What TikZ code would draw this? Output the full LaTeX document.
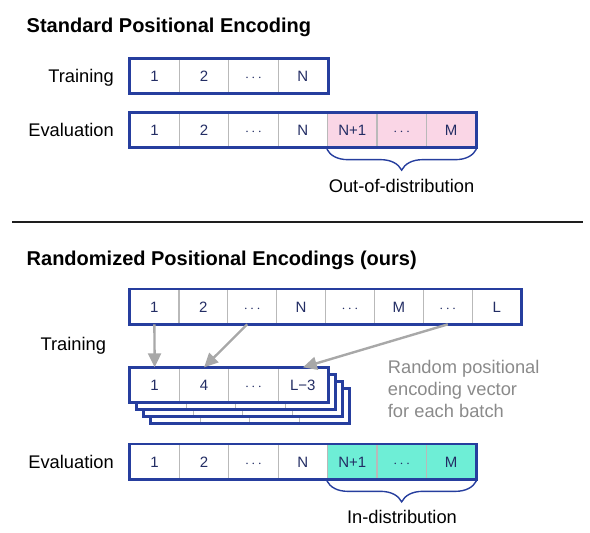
\documentclass[tikz,border=0pt]{standalone}
\usepackage{fontspec}
\setmainfont{Liberation Sans}
\usetikzlibrary{arrows.meta,decorations.pathreplacing}

\definecolor{framenavy}{RGB}{38,62,158}
\definecolor{cellnavy}{RGB}{35,45,100}
\definecolor{cellgray}{RGB}{185,185,185}
\definecolor{oodpink}{RGB}{250,214,230}
\definecolor{indteal}{RGB}{110,238,214}
\definecolor{arrowgray}{RGB}{168,168,168}
\definecolor{notegray}{RGB}{138,138,138}
\definecolor{rulegray}{RGB}{30,30,30}

\newcommand{\cellfont}{\fontsize{15}{18}\selectfont}
\newcommand{\labelfont}{\fontsize{18.3}{22}\selectfont}
\newcommand{\titlefont}{\bfseries\fontsize{20}{24}\selectfont}

\tikzset{
  cell/.style={draw=cellgray, line width=1.3pt, minimum height=34pt, inner sep=0pt,
    text height=10.7pt, text depth=0pt, text=cellnavy, font=\cellfont, anchor=west},
  frame/.style={draw=framenavy, line width=2.8pt},
  pick/.style={draw=arrowgray, line width=2.4pt, -{Triangle[length=14pt,width=13pt]}},
  span/.style={draw=framenavy, line width=1.4pt, decorate,
    decoration={brace, mirror, amplitude=21pt, raise=1.5pt}},
  rowlabel/.style={font=\labelfont, inner sep=0pt},
}

\begin{document}
\begin{tikzpicture}[x=1pt, y=-1pt]
  \useasboundingbox (0,0) rectangle (590,533);

  %%Standard
  \node[font=\titlefont, anchor=base west, inner sep=0pt] (stdtitle) at (26.5, 32) {Standard Positional Encoding};
  \node[rowlabel, anchor=base east] (stdtrain) at (114, 82.7) {Training};
  \node[rowlabel, anchor=base east] (stdeval) at (114, 136.8) {Evaluation};

    %%train row
    \foreach \t [count=\i] in {1,2,$\cdots$,N}
      \node[cell, minimum width=49.4pt] (st\i) at ({129.3+(\i-1)*49.4}, 76) {\t};
    \draw[frame] (st1.north west) rectangle (st4.south east);

    %%eval row
    \foreach \t/\f [count=\i] in {1/white,2/white,$\cdots$/white,N/white,N+1/oodpink,$\cdots$/oodpink,M/oodpink}
      \node[cell, fill=\f, minimum width=49.4pt] (se\i) at ({129.3+(\i-1)*49.4}, 130) {\t};
    \draw[frame] (se1.north west) rectangle (se7.south east);
    \draw[span] (se5.south west) -- (se7.south east);
  \node[rowlabel, anchor=base] (ood) at (401.5, 192.7) {Out-of-distribution};

  \draw[rulegray, line width=1.5pt] (12, 222) -- (583, 222);

  %%Randomized
  \node[font=\titlefont, anchor=base west, inner sep=0pt] (rndtitle) at (26.5, 265.5) {Randomized Positional Encodings (ours)};
  \node[rowlabel, anchor=base west] (rndtrain) at (40.4, 350.6) {Training};
  \node[rowlabel, anchor=base east] (rndeval) at (114, 468.3) {Evaluation};

    %%full row
    \foreach \t [count=\i] in {1,2,$\cdots$,N,$\cdots$,M,$\cdots$,L}
      \node[cell, minimum width=48.9pt] (rt\i) at ({129.3+(\i-1)*48.9}, 306.7) {\t};
    \draw[frame] (rt1.north west) rectangle (rt8.south east);

    %%stack behind
    \foreach \d in {21,14,7} {
      \foreach \i in {1,...,4}
        \node[cell, fill=white, minimum width=49.4pt] (bk\d c\i) at ({129.3+\d+(\i-1)*49.4}, {385+\d}) {};
      \draw[frame] (bk\d c1.north west) rectangle (bk\d c4.south east);
    }
    %%sampled row
    \foreach \t [count=\i] in {1,4,$\cdots$,L−3}
      \node[cell, fill=white, minimum width=49.4pt] (rs\i) at ({129.3+(\i-1)*49.4}, 385) {\t};
    \draw[frame] (rs1.north west) rectangle (rs4.south east);

    \draw[pick] (rt1.south) -- (rs1.north);
    \draw[pick] ([xshift=-5pt]rt3.south) -- (rs2.north);
    \draw[pick] (rt7.south) -- (rs4.north);

  \node[font=\labelfont, text=notegray, align=left, anchor=west, inner sep=0pt] (note) at (387.7, 389.3)
    {Random positional\\encoding vector\\for each batch};

    %%eval row
    \foreach \t/\f [count=\i] in {1/white,2/white,$\cdots$/white,N/white,N+1/indteal,$\cdots$/indteal,M/indteal}
      \node[cell, fill=\f, minimum width=49.4pt] (re\i) at ({129.3+(\i-1)*49.4}, 461.7) {\t};
    \draw[frame] (re1.north west) rectangle (re7.south east);
    \draw[span] (re5.south west) -- (re7.south east);
  \node[rowlabel, anchor=base] (ind) at (402, 523.5) {In-distribution};
\end{tikzpicture}
\end{document}
